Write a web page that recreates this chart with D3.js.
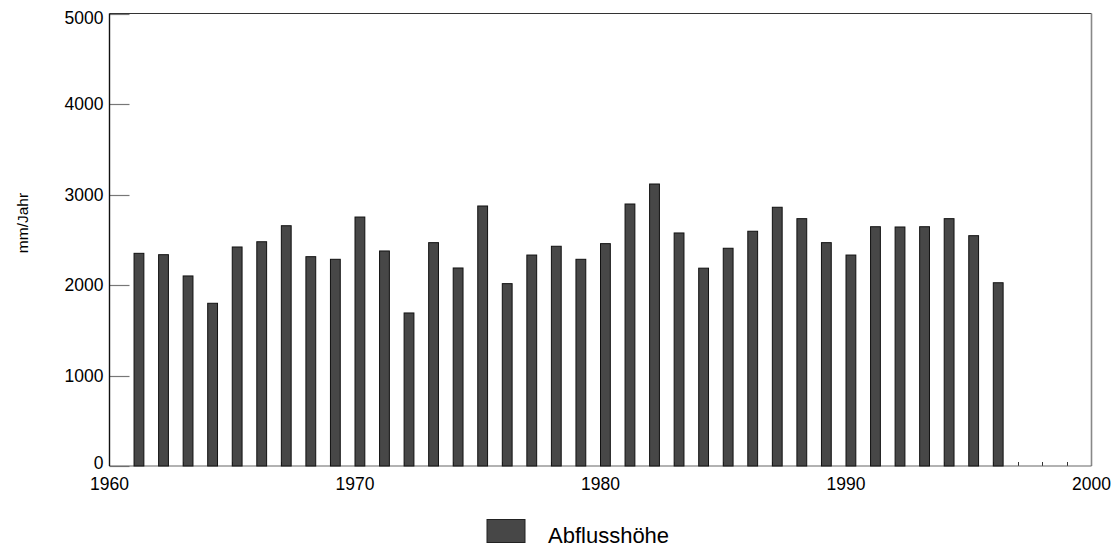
<!DOCTYPE html>
<html>
<head>
<meta charset="utf-8">
<script src="https://cdn.jsdelivr.net/npm/d3@7"></script>
<style>
  html, body { margin: 0; padding: 0; background: #fff; }
  svg { display: block; font-family: "Liberation Sans", Arial, sans-serif; }
</style>
</head>
<body>
<svg id="chart" width="1118" height="549"></svg>
<script>
// Annual runoff depth (Abflusshöhe), mm per year
const years = [1961, 1962, 1963, 1964, 1965, 1966, 1967, 1968, 1969, 1970,
               1971, 1972, 1973, 1974, 1975, 1976, 1977, 1978, 1979, 1980,
               1981, 1982, 1983, 1984, 1985, 1986, 1987, 1988, 1989, 1990,
               1991, 1992, 1993, 1994, 1995, 1996];
const runoff = [2350, 2335, 2100, 1798, 2420, 2478, 2655, 2313, 2284, 2751,
                2376, 1691, 2468, 2188, 2873, 2015, 2331, 2428, 2284, 2457,
                2895, 3116, 2575, 2186, 2406, 2594, 2859, 2733, 2468, 2331,
                2644, 2641, 2644, 2733, 2545, 2025];
const yTicks = [0, 1000, 2000, 3000, 4000, 5000];
const xTicks = [1960, 1970, 1980, 1990, 2000];
const seriesName = "Abflusshöhe";
const yTitle = "mm/Jahr";

const svg = d3.select("#chart");
const plot = { left: 109.5, right: 1091.5, top: 13.5, bottom: 466 };

const x = d3.scaleLinear().domain([1960, 2000]).range([plot.left, plot.right]);
const y = d3.scaleLinear().domain([0, 5000]).range([plot.bottom, plot.top]);
const barSpan = 0.4; // bar covers the first 40% of each year

// minor year ticks on the baseline
const yearTicks = d3.range(1961, 2000);
svg.append("g").selectAll("line").data(yearTicks).join("line")
  .attr("x1", d => Math.round(x(d)) + 0.5).attr("x2", d => Math.round(x(d)) + 0.5)
  .attr("y1", plot.bottom).attr("y2", plot.bottom - 4)
  .attr("stroke", "#333").attr("stroke-width", 1);

// y axis ticks pointing into the plot
svg.append("g").selectAll("line").data(yTicks).join("line")
  .attr("x1", plot.left).attr("x2", plot.left + 20)
  .attr("y1", d => Math.round(y(d)) + 0.5).attr("y2", d => Math.round(y(d)) + 0.5)
  .attr("stroke", "#777").attr("stroke-width", 1.2);

// frame
svg.append("line").attr("x1", plot.left).attr("x2", plot.right)
  .attr("y1", plot.top).attr("y2", plot.top).attr("stroke", "#333").attr("stroke-width", 1.2);
svg.append("line").attr("x1", plot.right).attr("x2", plot.right)
  .attr("y1", plot.top).attr("y2", plot.bottom).attr("stroke", "#888").attr("stroke-width", 1.6);
svg.append("line").attr("x1", plot.left).attr("x2", plot.right)
  .attr("y1", plot.bottom).attr("y2", plot.bottom).attr("stroke", "#666").attr("stroke-width", 1.2);
svg.append("line").attr("x1", plot.left).attr("x2", plot.left)
  .attr("y1", plot.top).attr("y2", plot.bottom).attr("stroke", "#111").attr("stroke-width", 1.4);

// bars
svg.append("g").selectAll("rect").data(years.map((yr, i) => ({ yr, v: runoff[i] }))).join("rect")
  .attr("x", d => x(d.yr))
  .attr("width", d => x(d.yr + barSpan) - x(d.yr))
  .attr("y", d => y(d.v))
  .attr("height", d => y(0) - y(d.v))
  .attr("fill", "#474747")
  .attr("stroke", "#111")
  .attr("stroke-width", 1);

// y tick labels (end labels nudged inside the frame)
svg.append("g").selectAll("text").data(yTicks).join("text")
  .attr("x", 103.5)
  .attr("y", (d, i) => y(d) + (i === 0 ? -3.5 : i === yTicks.length - 1 ? 4.5 : 0))
  .attr("dy", "0.36em")
  .attr("text-anchor", "end")
  .attr("font-size", 17.5)
  .attr("fill", "#000")
  .text(d => d);

// x tick labels
svg.append("g").selectAll("text").data(xTicks).join("text")
  .attr("x", d => x(d))
  .attr("y", 490)
  .attr("text-anchor", "middle")
  .attr("font-size", 17.5)
  .attr("fill", "#000")
  .text(d => d);

// y axis title
svg.append("text")
  .attr("transform", "translate(28,223) rotate(-90)")
  .attr("text-anchor", "middle")
  .attr("font-size", 15.5)
  .attr("fill", "#000")
  .text(yTitle);

// legend
const legend = svg.append("g").attr("transform", "translate(487,519.5)");
legend.append("rect").attr("width", 38).attr("height", 23)
  .attr("fill", "#474747").attr("stroke", "#222").attr("stroke-width", 1);
legend.append("text").attr("x", 61).attr("y", 23)
  .attr("font-size", 22).attr("fill", "#000").text(seriesName);
</script>
</body>
</html>
